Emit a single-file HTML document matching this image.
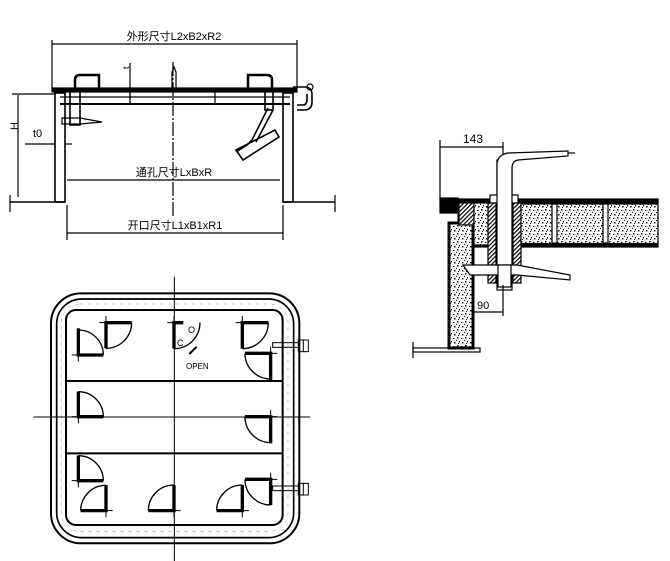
<!DOCTYPE html>
<html><head><meta charset="utf-8"><style>
html,body{margin:0;padding:0;background:#fff;width:670px;height:561px;overflow:hidden}
svg{display:block}
text{font-family:"Liberation Sans","Noto Sans CJK SC",sans-serif;fill:#000}
</style></head><body>
<svg width="670" height="561" viewBox="0 0 670 561" xmlns="http://www.w3.org/2000/svg">
<defs>
<pattern id="sp" width="8" height="8" patternUnits="userSpaceOnUse">
<rect width="8" height="8" fill="#fff"/>
<rect x="1" y="1" width="1.5" height="1.5" fill="#000"/><rect x="5" y="2" width="1.5" height="1" fill="#000"/>
<rect x="3" y="5" width="1" height="1.5" fill="#000"/><rect x="6" y="6" width="1.5" height="1.5" fill="#000"/>
<rect x="0" y="4" width="1" height="1" fill="#000"/><rect x="2" y="7" width="1" height="1" fill="#000"/>
</pattern>
<pattern id="ht" width="3" height="3" patternUnits="userSpaceOnUse" patternTransform="rotate(45)">
<rect width="3" height="3" fill="#fff"/><rect width="1.2" height="3" fill="#000"/>
</pattern>
</defs>

<!-- ELEVATION VIEW -->
<g stroke="#000" fill="none" stroke-width="1.2">
<line x1="52" y1="40" x2="52" y2="88"/><line x1="297" y1="40" x2="297" y2="88"/>
<line x1="52" y1="44" x2="297" y2="44"/>
<line x1="173" y1="62" x2="173" y2="218" stroke-dasharray="14 2 2 2"/>
<rect x="52" y="88" width="245" height="4" fill="#000"/>
<line x1="60" y1="104" x2="290" y2="104" stroke-width="2"/>
<line x1="60" y1="97" x2="290" y2="97"/>
<line x1="130" y1="92" x2="130" y2="104"/><line x1="215" y1="92" x2="215" y2="104"/>
<rect x="55" y="93" width="10" height="109" stroke-width="1.6"/><rect x="283" y="93" width="10" height="109" stroke-width="1.6"/>
<line x1="10" y1="202" x2="65" y2="202" stroke-width="1.5"/><line x1="283" y1="202" x2="335" y2="202" stroke-width="1.5"/>
<line x1="10" y1="195" x2="10" y2="212"/><line x1="335" y1="195" x2="335" y2="212"/>
<!-- handles top -->
<path d="M75 88 V80 Q75 75 80 75 H99 V88" stroke-width="2.5"/>
<path d="M272 88 V80 Q272 75 267 75 H248 V88" stroke-width="2.5"/>
<path d="M172 88 V72 L174 67 L176 72 V88" />
<!-- left dog -->
<rect x="70" y="90" width="10" height="35" stroke-width="1.6"/>
<path d="M62 118 L80 118 L102 122 L80 124 L62 124 Z"/>
<!-- right dog diagonal -->
<rect x="265" y="90" width="8" height="20" stroke-width="1.6"/>
<path d="M268 108 L252 140 L247 145 L236 152 M273 110 L256 142" stroke-width="1.6"/>
<path d="M236 150 L275 130 L279 137 L243 160 Z" stroke-width="1.6"/>
<!-- hinge right -->
<path d="M293 87 H305 Q312 87 312 95 V102 Q312 110 304 110 H297 M297 105 H303 Q307 105 307 99 V94" stroke-width="1.6"/>
<circle cx="310" cy="87" r="3"/>
<!-- t dims -->
<line x1="130" y1="63" x2="130" y2="104"/>
<line x1="18" y1="95" x2="18" y2="197"/>
<line x1="12" y1="94" x2="55" y2="94"/>
<line x1="25" y1="144" x2="55" y2="144"/><line x1="65" y1="144" x2="72" y2="144"/>
<line x1="67" y1="180" x2="280" y2="180"/>
<line x1="67" y1="205" x2="67" y2="240"/><line x1="283" y1="205" x2="283" y2="240"/>
<line x1="67" y1="233" x2="283" y2="233"/>
</g>
<text x="126" y="72" font-size="9" transform="rotate(-90 126 69)">t</text>
<text x="14" y="134" font-size="11" transform="rotate(-90 14 130)">H</text>
<text x="174" y="40" font-size="11" text-anchor="middle">外形尺寸L2xB2xR2</text>
<text x="33" y="137" font-size="11">t0</text>
<text x="174" y="176" font-size="11" text-anchor="middle">通孔尺寸LxBxR</text>
<text x="175" y="229" font-size="11" text-anchor="middle">开口尺寸L1xB1xR1</text>

<!-- PLAN VIEW -->
<g transform="translate(30,280) scale(0.3333)" stroke="#000" fill="none">
<rect x="63" y="40" width="745" height="750" rx="90" stroke-width="6"/>
<rect x="80" y="57" width="711" height="716" rx="75" stroke-width="5"/>
<rect x="108" y="90" width="650" height="645" rx="30" stroke-width="6"/>
<rect x="94" y="72" width="680" height="682" rx="55" stroke-width="1.5" stroke="#999" stroke-dasharray="10 14"/>
<line x1="108" y1="303" x2="758" y2="303" stroke-width="6"/>
<line x1="108" y1="520" x2="758" y2="520" stroke-width="6"/>
<line x1="433" y1="-10" x2="433" y2="850" stroke-width="3"/>
<line x1="10" y1="411" x2="840" y2="411" stroke-width="3"/>
<g stroke-width="4">
<path d="M145 150 A75 75 0 0 1 220 225"/>
<path d="M305 128 A77 77 0 0 1 228 205"/>
<path d="M510 128 A78 78 0 0 1 432 206"/>
<path d="M715 128 A78 78 0 0 1 637 206"/>
<path d="M645 220 A77 77 0 0 0 722 297"/>
<path d="M145 335 A75 75 0 0 1 220 410"/>
<path d="M645 410 A78 78 0 0 0 722 488"/>
<path d="M145 527 A75 75 0 0 1 220 602"/>
<path d="M152 692 A76 76 0 0 1 228 616"/>
<path d="M355 692 A77 77 0 0 1 432 615"/>
<path d="M560 692 A77 77 0 0 1 637 615"/>
<path d="M645 598 A77 77 0 0 0 722 675"/>
<line x1="478" y1="222" x2="500" y2="200" stroke-width="6"/>
</g>
<g stroke-width="10">
<path d="M145 145 V225 H220"/><path d="M228 205 V128 H305"/>
<path d="M432 206 V128 H460"/><path d="M637 206 V128 H715"/>
<path d="M722 300 V220 H645"/><path d="M145 335 V410 H220"/>
<path d="M722 490 V410 H645"/><path d="M145 527 V602 H220"/>
<path d="M228 615 V692 H152"/><path d="M432 615 V692 H355"/>
<path d="M637 615 V692 H560"/><path d="M722 675 V598 H645"/>
</g>
<g stroke-width="3">
<path d="M125 225 H165 M145 205 V245 M208 128 H248 M228 108 V148 M412 128 H452 M432 108 V148 M617 128 H657 M637 108 V148 M702 220 H742 M722 200 V240 M125 410 H165 M145 390 V430 M702 410 H742 M722 390 V430 M125 602 H165 M145 582 V622 M208 692 H248 M228 672 V712 M412 692 H452 M432 672 V712 M617 692 H657 M637 672 V712 M702 598 H742 M722 578 V618"/>
<rect x="728" y="188" width="80" height="14"/><rect x="805" y="180" width="30" height="35"/><line x1="820" y1="180" x2="820" y2="215"/>
<rect x="728" y="618" width="80" height="14"/><rect x="805" y="610" width="30" height="35"/><line x1="820" y1="610" x2="820" y2="645"/>
</g>
</g>
<text x="188" y="333" font-size="9">O</text>
<text x="177" y="346" font-size="9">C</text>
<text x="186" y="369" font-size="8">OPEN</text>

<!-- DETAIL VIEW -->
<g stroke="#000" fill="none" stroke-width="1.2">
<line x1="440" y1="140" x2="440" y2="200"/>
<line x1="440" y1="147" x2="503" y2="147"/>
<line x1="503" y1="142" x2="503" y2="195"/>
<rect x="458" y="200" width="200" height="47" fill="url(#sp)"/>
<rect x="458" y="199" width="200" height="5" fill="#000"/>
<rect x="458" y="243" width="200" height="4" fill="#000" stroke="none"/>
<rect x="552" y="204" width="5" height="39" fill="#fff"/>
<rect x="603" y="204" width="5" height="39" fill="#fff"/>
<rect x="440" y="198" width="18" height="15" fill="#000"/>
<rect x="449" y="223" width="24" height="125" fill="url(#sp)" stroke-width="3"/>
<rect x="459" y="203" width="15" height="22" fill="url(#ht)"/>
<rect x="474" y="203" width="15" height="42" fill="url(#sp)"/>
<rect x="490" y="195" width="28" height="8" fill="#fff"/>
<rect x="488" y="203" width="8" height="80" fill="url(#ht)"/>
<rect x="513" y="203" width="8" height="80" fill="url(#ht)"/>
<rect x="497" y="160" width="15" height="130" fill="#fff"/>
<path d="M497 195 V165 Q497 155 508 153 L568 151 V156 L518 160 Q512 161 512 168 V195" fill="#fff"/>
<line x1="568" y1="153" x2="575" y2="153"/>
<path d="M463 265 H517 L570 275 V280 L517 275 H470 Z" fill="#fff"/>
<rect x="498" y="265" width="13" height="22" fill="#fff"/>
<line x1="473" y1="312" x2="503" y2="312"/><line x1="503" y1="285" x2="503" y2="316"/>
<rect x="413" y="348" width="67" height="4"/>
<line x1="413" y1="342" x2="413" y2="358"/>
</g>
<text x="463" y="143" font-size="12">143</text>
<text x="477" y="309" font-size="11">90</text>
</svg>
</body></html>
